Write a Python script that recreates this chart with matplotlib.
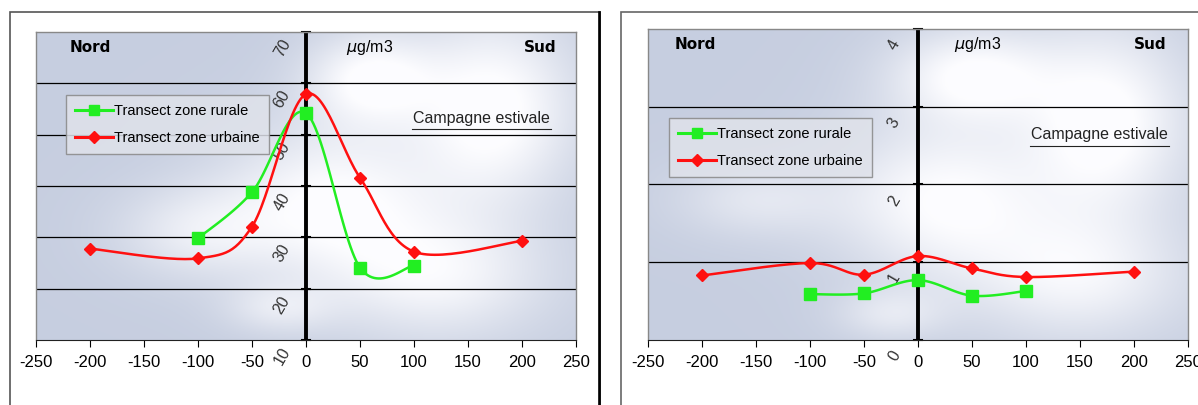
import numpy as np
import matplotlib
matplotlib.use("Agg")
import matplotlib.pyplot as plt
from matplotlib.patches import Rectangle
from matplotlib.lines import Line2D
import matplotlib.transforms as mtransforms

plt.rcParams['font.family'] = ['Liberation Sans', 'DejaVu Sans']

# data
distances_rural = [-100, -50, 0, 50, 100]
distances_urban = [-200, -100, -50, 0, 50, 100, 200]

left_rural = [29.8, 38.8, 54.2, 24.1, 24.5]
left_urban = [27.8, 25.9, 32.1, 57.9, 41.6, 27.2, 29.3]

right_rural = [0.59, 0.60, 0.77, 0.57, 0.63]
right_urban = [0.83, 0.99, 0.84, 1.08, 0.92, 0.81, 0.88]

x_ticks = [-250, -200, -150, -100, -50, 0, 50, 100, 150, 200, 250]
left_yticks = [10, 20, 30, 40, 50, 60, 70]
right_yticks = [0, 1, 2, 3, 4]

GREEN = '#22ee22'
RED = '#ff1010'


def smooth(xs, ys, n=30):
    # excel-like smoothed line (catmull-rom bezier)
    p = np.column_stack([xs, ys]).astype(float)
    pts = [p[0]] + list(p) + [p[-1]]
    out = []
    t = np.linspace(0, 1, n)[:, None]
    for i in range(1, len(pts) - 2):
        p0, p1, p2, p3 = pts[i - 1], pts[i], pts[i + 1], pts[i + 2]
        c1 = p1 + (p2 - p0) / 6
        c2 = p2 - (p3 - p1) / 6
        seg = ((1 - t) ** 3) * p1 + 3 * ((1 - t) ** 2) * t * c1 + 3 * (1 - t) * t ** 2 * c2 + t ** 3 * p2
        out.append(seg)
    seg = np.vstack(out)
    return seg[:, 0], seg[:, 1]


def sky(blobs):
    u = np.linspace(0, 1, 300)
    v = np.linspace(1, 0, 200)
    U, V = np.meshgrid(u, v)
    s = np.zeros_like(U)
    for bu, bv, su, sv, a in blobs:
        s += a * np.exp(-((U - bu) / su) ** 2 - ((V - bv) / sv) ** 2)
    w = np.clip(s, 0, 1)[..., None]
    base = np.array([0.78, 0.81, 0.88])
    return base * (1 - w) + np.array([0.99, 0.99, 1.0]) * w


blobs_left = [(0.62, 0.85, 0.12, 0.15, 1.0), (0.85, 0.75, 0.15, 0.3, 1.1),
              (0.55, 0.45, 0.2, 0.25, 1.0), (0.3, 0.35, 0.15, 0.15, 0.6),
              (0.75, 0.2, 0.2, 0.2, 0.8), (0.45, 0.1, 0.1, 0.08, 0.5)]
blobs_right = [(0.6, 0.85, 0.15, 0.15, 1.0), (0.85, 0.7, 0.15, 0.3, 1.1),
               (0.55, 0.45, 0.2, 0.25, 1.0), (0.2, 0.45, 0.15, 0.12, 0.5),
               (0.8, 0.2, 0.2, 0.2, 0.8), (0.45, 0.08, 0.1, 0.08, 0.5)]

fig = plt.figure(figsize=(11.98, 4.05), dpi=100)
W, H = 1198, 405

# outer frames
fig.add_artist(Rectangle((10 / W, -0.1), 590 / W, 1 - 12 / H + 0.1, transform=fig.transFigure,
                         fill=False, edgecolor='#555555', linewidth=1.2))
fig.add_artist(Rectangle((599 / W, -0.1), 1 / W, 1 - 12 / H + 0.1, transform=fig.transFigure,
                         fill=False, edgecolor='black', linewidth=1.2))
fig.add_artist(Rectangle((621 / W, -0.1), 600 / W, 1 - 12 / H + 0.1, transform=fig.transFigure,
                         fill=False, edgecolor='#666666', linewidth=1.2))


def panel(rect, ylim, yticks, rural, urban, blobs, pos):
    ax = fig.add_axes(rect)
    ax.imshow(sky(blobs), extent=[-250, 250, ylim[0], ylim[1]], aspect='auto', zorder=0)
    ax.set_xlim(-250, 250)
    ax.set_ylim(*ylim)
    for y in yticks[1:-1]:
        ax.axhline(y, color='black', linewidth=0.9, zorder=1)
    for s in ['left', 'top', 'right']:
        ax.spines[s].set_color('#888888')
        ax.spines[s].set_linewidth(1.0)
    ax.spines['bottom'].set_color('#222222')
    ax.axvline(0, color='black', linewidth=2.8, zorder=2)
    ax.set_xticks(x_ticks)
    ax.set_xticklabels([str(v) for v in x_ticks], fontsize=12)
    ax.tick_params(axis='x', direction='out', length=5, width=0.8, pad=6)
    ax.set_yticks([])
    # small tick marks on the centre axis
    for y in yticks:
        ax.plot([-4, 4], [y, y], color='black', linewidth=1.5, zorder=2, clip_on=False)
    off = mtransforms.offset_copy(ax.transData, fig=fig, x=0, y=-16, units='dots')
    for y in yticks:
        ax.text(-22, y, str(y), transform=off, rotation=60, fontsize=11.5,
                color='#333333', ha='center', va='center', clip_on=False)

    xr, yr = smooth(distances_rural, rural)
    xu, yu = smooth(distances_urban, urban)
    ax.plot(xr, yr, color=GREEN, linewidth=1.8, zorder=3)
    ax.plot(xu, yu, color=RED, linewidth=1.8, zorder=4)
    ax.plot(distances_rural, rural, 's', color=GREEN, markersize=8, zorder=5)
    ax.plot(distances_urban, urban, 'D', color=RED, markersize=6.5, zorder=5)

    ax.text(pos['nord'], 0.95, 'Nord', transform=ax.transAxes, fontsize=11, fontweight='bold',
            family='DejaVu Sans', ha='center', va='center', zorder=6)
    ax.text(pos['sud'], 0.95, 'Sud', transform=ax.transAxes, fontsize=11, fontweight='bold',
            family='DejaVu Sans', ha='center', va='center', zorder=6)
    ax.text(pos['unit'], 0.95, r'$\mu$g/m3', transform=ax.transAxes, fontsize=11.5,
            ha='center', va='center', zorder=6)
    cx0, cx1 = pos['camp_x']
    ax.text((cx0 + cx1) / 2, pos['camp_y'], 'Campagne estivale', transform=ax.transAxes,
            fontsize=11.5, ha='center', va='center', color='#222222', zorder=6)
    ax.plot([cx0, cx1], [pos['camp_y'] - 0.035] * 2, transform=ax.transAxes,
            color='#222222', linewidth=0.8, zorder=6)

    handles = [Line2D([], [], color=GREEN, linewidth=2.2, marker='s', markersize=7),
               Line2D([], [], color=RED, linewidth=2.2, marker='D', markersize=6)]
    leg = ax.legend(handles, ['Transect zone rurale', 'Transect zone urbaine'],
                    loc='upper left', bbox_to_anchor=pos['legend'], fontsize=10.5,
                    frameon=True, fancybox=False, handlelength=2.6, handletextpad=0.1,
                    borderpad=0.6, labelspacing=0.9, borderaxespad=0)
    leg.get_frame().set_facecolor('#dfe2ea')
    leg.get_frame().set_alpha(0.85)
    leg.get_frame().set_edgecolor('#888888')
    leg.set_zorder(7)
    return ax


panel([36 / W, 65 / H, 540 / W, 308 / H], (10, 70), left_yticks, left_rural, left_urban,
      blobs_left, dict(nord=0.10, sud=0.933, unit=0.618, camp_x=(0.696, 0.954), camp_y=0.72,
                       legend=(0.056, 0.795)))
panel([648 / W, 65 / H, 540 / W, 311 / H], (0, 4), right_yticks, right_rural, right_urban,
      blobs_right, dict(nord=0.087, sud=0.93, unit=0.611, camp_x=(0.707, 0.965), camp_y=0.66,
                        legend=(0.039, 0.714)))

plt.savefig('out.png', dpi=100)
